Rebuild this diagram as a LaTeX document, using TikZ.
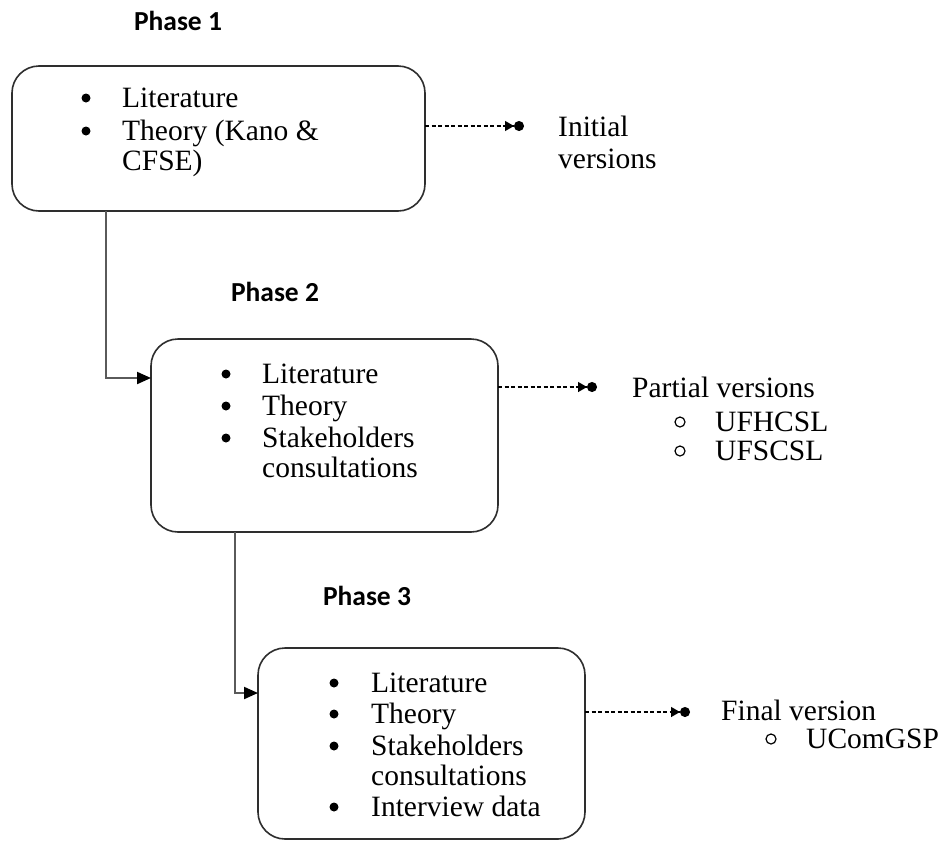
\documentclass[tikz,border=0pt]{standalone}
\usepackage{fontspec}
\setmainfont{Liberation Serif}
\newfontfamily\headfont{Carlito}
\usetikzlibrary{arrows.meta}
\definecolor{boxline}{HTML}{2E2E2E}
\definecolor{connline}{HTML}{5A5A5A}
\begin{document}
\begin{tikzpicture}[x=1pt,y=-1pt,
  phasebox/.style={draw=boxline, line width=1.6pt, rounded corners=27pt,
    inner sep=0pt, outer sep=0pt},
  item/.style={anchor=base west, inner sep=0pt,
    font=\fontsize{29.5}{31}\selectfont},
  head/.style={inner sep=0pt, font=\headfont\bfseries\fontsize{27.5}{29}\selectfont},
  conn/.style={draw=connline, line width=2pt,
    -{Triangle[length=14pt,width=12pt,color=black]}},
  dotarrow/.style={line width=1.3pt, dash pattern=on 4pt off 2.5pt,
    -{Triangle[length=9pt,width=10pt]Circle[length=10pt]}},
  bul/.style={circle, fill, inner sep=0pt, minimum size=9pt},
  ring/.style={circle, draw, line width=1.2pt, inner sep=0pt, minimum size=10pt},
]
\fill[white] (0,0) rectangle (939,841);
\useasboundingbox (0,0) rectangle (939,841);

% phase headings
\node[head] (h1) at (178,21) {Phase 1};
\node[head] (h2) at (275,292) {Phase 2};
\node[head] (h3) at (367,596) {Phase 3};

% phase boxes
\node[phasebox, minimum width=413pt, minimum height=145pt] (b1) at (218.5,138.5) {};
\node[phasebox, minimum width=347pt, minimum height=193pt] (b2) at (324.5,435.5) {};
\node[phasebox, minimum width=327pt, minimum height=191pt] (b3) at (421.5,743.5) {};

% phase 1 contents
\node[bul] (p1a) at (86,98) {};
\node[item] (t1a) at (122,107) {Literature};
\node[bul] (p1b) at (86,131) {};
\node[item] (t1b) at (122,140) {Theory (Kano \&};
\node[item] (t1c) at (122,170) {CFSE)};

% phase 2 contents
\node[bul] (p2a) at (226,374) {};
\node[item] (t2a) at (262,383) {Literature};
\node[bul] (p2b) at (226,406) {};
\node[item] (t2b) at (262,415) {Theory};
\node[bul] (p2c) at (226,438) {};
\node[item] (t2c) at (262,447) {Stakeholders};
\node[item] (t2d) at (262,477) {consultations};

% phase 3 contents
\node[bul] (p3a) at (334,683) {};
\node[item] (t3a) at (371,692) {Literature};
\node[bul] (p3b) at (334,714) {};
\node[item] (t3b) at (371,723) {Theory};
\node[bul] (p3c) at (334,746) {};
\node[item] (t3c) at (371,755) {Stakeholders};
\node[item] (t3d) at (371,785) {consultations};
\node[bul] (p3e) at (334,807) {};
\node[item] (t3e) at (371,816) {Interview data};

% outcomes of each phase
\node[item] (o1a) at (558,136) {Initial};
\node[item] (o1b) at (558,168) {versions};

\node[item] (o2a) at (632,397) {Partial versions};
\node[ring] (r2a) at (680,422) {};
\node[item] (o2b) at (715,431) {UFHCSL};
\node[ring] (r2b) at (680,451) {};
\node[item] (o2c) at (715,460) {UFSCSL};

\node[item] (o3a) at (721,720) {Final version};
\node[ring] (r3a) at (771,739) {};
\node[item] (o3b) at (806,748) {UComGSP};

% links between phases
\coordinate (j1) at (106,378);
\coordinate (j2) at (235,693);
\draw[conn] (b1.south -| j1) |- (b2.west |- j1);
\draw[conn] (b2.south -| j2) |- (b3.west |- j2);

% dotted links to the versions
\coordinate (e1) at (524,126);
\coordinate (e2) at (597,387);
\coordinate (e3) at (690,712);
\draw[dotarrow] (b1.east |- e1) -- (e1);
\draw[dotarrow] (b2.east |- e2) -- (e2);
\draw[dotarrow] (b3.east |- e3) -- (e3);
\end{tikzpicture}
\end{document}
